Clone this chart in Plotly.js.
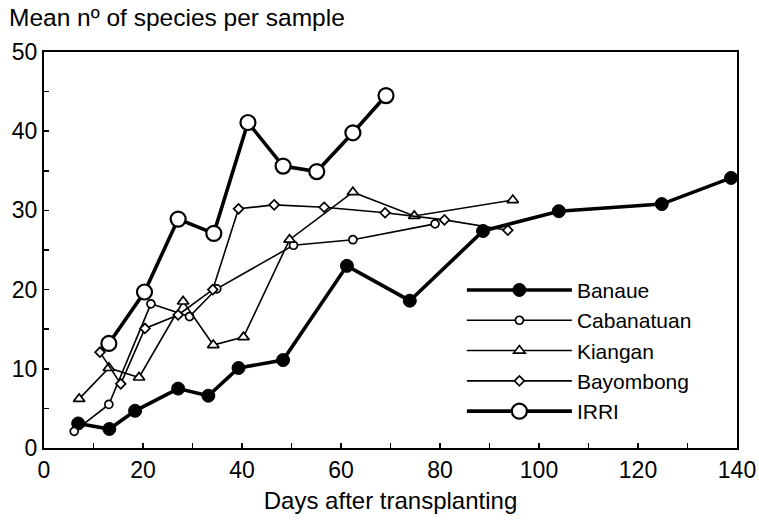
<!DOCTYPE html>
<html>
<head>
<meta charset="utf-8">
<script src="https://cdn.plot.ly/plotly-3.0.1.min.js"></script>
<style>html,body{margin:0;padding:0;background:#fff;}#chart{width:759px;height:520px;}</style>
</head>
<body>
<div id="chart"></div>
<script>
// Days after transplanting and mean number of species per sample
const banaueDays = [6.9, 13.2, 18.4, 27.1, 33.2, 39.3, 48.3, 61.2, 73.9, 88.7, 104.0, 124.8, 138.8];
const banaueVals = [3.1, 2.4, 4.7, 7.5, 6.6, 10.1, 11.1, 23.0, 18.6, 27.4, 29.9, 30.8, 34.1];

const cabanatuanDays = [6.1, 13.1, 21.6, 29.4, 34.9, 50.4, 62.4, 79.0];
const cabanatuanVals = [2.1, 5.5, 18.2, 16.6, 20.1, 25.6, 26.3, 28.3];

const kianganDays = [7.1, 13.1, 19.2, 28.1, 34.2, 40.3, 49.6, 62.4, 74.8, 94.7];
const kianganVals = [6.2, 10.1, 8.9, 18.5, 13.0, 14.0, 26.3, 32.3, 29.3, 31.3];

const bayombongDays = [11.3, 15.5, 20.4, 27.1, 34.1, 39.3, 46.5, 56.6, 68.9, 80.9, 93.7];
const bayombongVals = [12.1, 8.1, 15.1, 16.8, 20.0, 30.2, 30.7, 30.4, 29.7, 28.8, 27.5];

const irriDays = [13.1, 20.3, 27.1, 34.3, 41.2, 48.3, 55.1, 62.4, 69.1];
const irriVals = [13.2, 19.7, 28.9, 27.1, 41.1, 35.6, 34.9, 39.8, 44.5];

const seriesNames = ['Banaue', 'Cabanatuan', 'Kiangan', 'Bayombong', 'IRRI'];
const xTickVals = [0, 20, 40, 60, 80, 100, 120, 140];
const yTickVals = [0, 10, 20, 30, 40, 50];

const FONT = '"Liberation Sans", Arial, Helvetica, sans-serif';

function tr(name, x, y, lw, sym, size, fill, mlw) {
  return {
    type: 'scatter', mode: 'lines+markers', name: name, x: x, y: y,
    line: {color: '#000', width: lw},
    marker: {symbol: sym, size: size, color: fill, line: {color: '#000', width: mlw}},
    cliponaxis: false
  };
}

const data = [
  tr(seriesNames[0], banaueDays, banaueVals, 3.6, 'circle', 13, '#000', 1),
  tr(seriesNames[1], cabanatuanDays, cabanatuanVals, 1.6, 'circle', 8, '#fff', 1.7),
  tr(seriesNames[2], kianganDays, kianganVals, 1.6, 'triangle-up', 10, '#fff', 1.7),
  tr(seriesNames[3], bayombongDays, bayombongVals, 1.6, 'diamond', 7.5, '#fff', 1.7),
  tr(seriesNames[4], irriDays, irriVals, 3.6, 'circle', 15, '#fff', 2.2)
];

const layout = {
  width: 759, height: 520,
  margin: {l: 44, r: 22, t: 52, b: 72},
  paper_bgcolor: '#fff', plot_bgcolor: '#fff',
  font: {family: FONT, color: '#000', size: 23},
  showlegend: true,
  legend: {
    x: 0.603, y: 0.450, xanchor: 'left', yanchor: 'top',
    bgcolor: 'rgba(255,255,255,0)', borderwidth: 0,
    font: {family: FONT, size: 21, color: '#000'},
    itemwidth: 105, tracegroupgap: 0
  },
  xaxis: {
    range: [0, 140], tickvals: xTickVals, ticktext: xTickVals.map(String),
    ticks: 'inside', ticklen: 5, tickwidth: 1.5, tickcolor: '#000',
    minor: {dtick: 10, tick0: 0, ticks: 'inside', ticklen: 5, tickwidth: 1.5, tickcolor: '#000'},
    showline: true, linecolor: '#000', linewidth: 2, mirror: true,
    showgrid: false, zeroline: false,
    tickfont: {family: FONT, size: 23, color: '#000'},
    title: {text: 'Days after transplanting', font: {family: FONT, size: 24, color: '#000'}, standoff: 11}
  },
  yaxis: {
    range: [0, 50], tickvals: yTickVals, ticktext: yTickVals.map(String),
    ticks: 'inside', ticklen: 5, tickwidth: 1.5, tickcolor: '#000',
    minor: {dtick: 5, tick0: 0, ticks: 'inside', ticklen: 5, tickwidth: 1.5, tickcolor: '#000'},
    showline: true, linecolor: '#000', linewidth: 2, mirror: true,
    showgrid: false, zeroline: false,
    tickfont: {family: FONT, size: 23, color: '#000'}
  },
  annotations: [{
    text: 'Mean nº of species per sample', xref: 'paper', yref: 'paper',
    x: -0.053, y: 1.0, xanchor: 'left', yanchor: 'bottom', yshift: 19, showarrow: false,
    font: {family: FONT, size: 24.5, color: '#000'}
  }]
};

Plotly.newPlot('chart', data, layout, {displayModeBar: false, staticPlot: true});
</script>
</body>
</html>
